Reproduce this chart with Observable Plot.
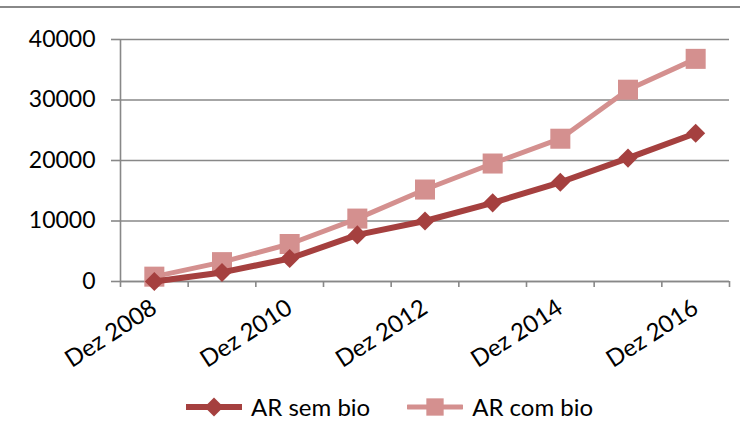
<!DOCTYPE html>
<html>
<head>
<meta charset="utf-8">
<script src="https://cdn.jsdelivr.net/npm/d3@7"></script>
<script src="https://cdn.jsdelivr.net/npm/@observablehq/plot@0.6"></script>
<style>
  html, body { margin: 0; padding: 0; background: #fff; }
  #wrap { position: relative; width: 740px; height: 421px; overflow: hidden; font-family: Lato, "Open Sans", sans-serif; }
  #topline { position: absolute; left: 0; top: 6px; width: 740px; height: 2px; background: #888; }
  #legend { display: flex; align-items: center; height: 27px; margin-top: 1px; padding-left: 186px; font-size: 24px; line-height: 27px; color: #000; }
  #legend .item { display: flex; align-items: center; margin-right: 37px; }
  #legend svg { margin-right: 9px; }
</style>
</head>
<body>
<div id="wrap"><div id="topline"></div><div id="chart"></div><div id="legend"></div></div>
<script>
const categories = ["Dez 2008","Dez 2009","Dez 2010","Dez 2011","Dez 2012","Dez 2013","Dez 2014","Dez 2015","Dez 2016"];
const labelledCategories = ["Dez 2008","Dez 2010","Dez 2012","Dez 2014","Dez 2016"];
const semBio = [0, 1500, 3800, 7700, 10000, 13000, 16400, 20400, 24500];
const comBio = [800, 3200, 6200, 10400, 15200, 19500, 23600, 31700, 36800];
const yTicks = [0, 10000, 20000, 30000, 40000];
const seriesNames = ["AR sem bio", "AR com bio"];
const colors = ["#A5403F", "#D4908F"];
const symbols = ["diamond2", "square"];

const data = [];
categories.forEach((c, i) => {
  data.push({i, cat: c, v: semBio[i], s: seriesNames[0]});
  data.push({i, cat: c, v: comBio[i], s: seriesNames[1]});
});
const xDomain = [-0.5, categories.length - 0.5];
const boundaries = d3.range(xDomain[0], xDomain[1] + 0.01, 1);
const labelTicks = labelledCategories.map(c => categories.indexOf(c));
const gray = "#888";

const chart = Plot.plot({
  width: 740,
  height: 392,
  marginLeft: 120,
  marginRight: 11,
  marginTop: 39,
  marginBottom: 111,
  style: {fontFamily: "Lato, 'Open Sans', sans-serif", fontSize: "23px", color: "#000", background: "transparent"},
  x: {domain: xDomain, axis: null},
  y: {domain: [0, 40000], axis: null},
  marks: [
    Plot.gridY(yTicks, {stroke: gray, strokeOpacity: 1, strokeWidth: 1.6}),
    Plot.axisY({ticks: yTicks, label: null, tickSize: 9, tickPadding: 16, tickFormat: d3.format("d"), stroke: gray, strokeOpacity: 1, strokeWidth: 1.6, fontSize: 23}),
    Plot.ruleX([xDomain[0]], {stroke: gray, strokeWidth: 1.6}),
    Plot.ruleY([0], {stroke: gray, strokeWidth: 1.6}),
    Plot.axisX({ticks: boundaries, label: null, tickSize: 6, tickFormat: () => "", stroke: gray, strokeOpacity: 1, strokeWidth: 1.6}),
    Plot.axisX({ticks: labelTicks, label: null, tickSize: 0, tickPadding: 24, tickRotate: -33, tickFormat: i => categories[i], fontSize: 24}),
    Plot.line(data.filter(d => d.s === seriesNames[1]), {x: "i", y: "v", stroke: colors[1], strokeWidth: 5}),
    Plot.dot(data.filter(d => d.s === seriesNames[1]), {x: "i", y: "v", fill: colors[1], symbol: symbols[1], r: 11.3}),
    Plot.line(data.filter(d => d.s === seriesNames[0]), {x: "i", y: "v", stroke: colors[0], strokeWidth: 6}),
    Plot.dot(data.filter(d => d.s === seriesNames[0]), {x: "i", y: "v", fill: colors[0], symbol: symbols[0], r: 8.6})
  ]
});
document.getElementById("chart").appendChild(chart);

const legend = d3.select("#legend");
seriesNames.forEach((name, k) => {
  const item = legend.append("div").attr("class", "item");
  const sv = item.append("svg").attr("width", 56).attr("height", 24);
  sv.append("line").attr("x1", 1).attr("x2", 55).attr("y1", 12).attr("y2", 12)
    .attr("stroke", colors[k]).attr("stroke-width", k === 0 ? 6 : 5).attr("stroke-linecap", "round");
  const sym = k === 0 ? d3.symbolDiamond2 : d3.symbolSquare;
  const size = k === 0 ? 230 : 300;
  sv.append("path").attr("transform", "translate(28,12)").attr("d", d3.symbol(sym, size)()).attr("fill", colors[k]);
  item.append("span").text(name);
});
</script>
</body>
</html>
